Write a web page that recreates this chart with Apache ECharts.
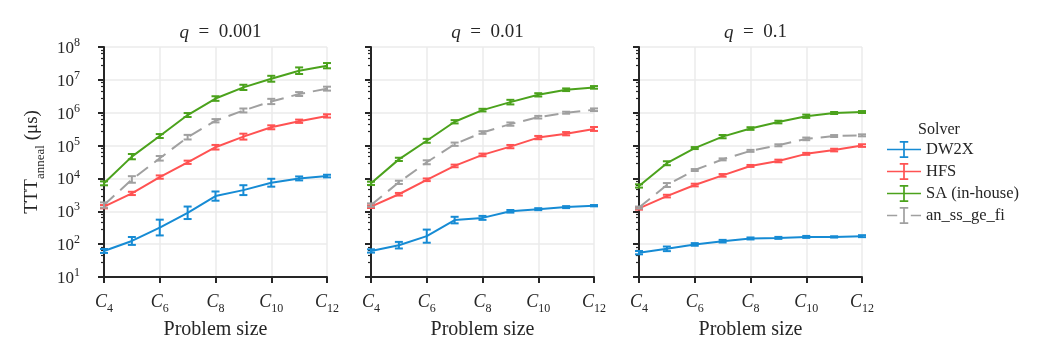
<!DOCTYPE html>
<html><head><meta charset="utf-8">
<script src="https://cdn.jsdelivr.net/npm/echarts@6/dist/echarts.min.js"></script>
<style>html,body{margin:0;padding:0;background:#fff}#c{width:1038px;height:346px}</style>
</head><body><div id="c"></div>
<script>
const sizes = [4, 5, 6, 7, 8, 9, 10, 11, 12];
const qValues = ['0.001', '0.01', '0.1'];
const solvers = ['DW2X', 'HFS', 'SA (in-house)', 'an_ss_ge_fi'];
const colors = ['#168bd4', '#ff5252', '#4ba21c', '#a0a0a0'];

// q = 0.001
const dw2x_q1 = [62, 125, 320, 900, 2900, 4400, 7400, 10000, 11800];
const hfs_q1  = [1380, 3500, 11000, 31000, 89000, 187000, 360000, 550000, 800000];
const sa_q1   = [7100, 46000, 195000, 850000, 2700000, 5900000, 10800000, 19000000, 27000000];
const ang_q1  = [1550, 9300, 41000, 180000, 570000, 1170000, 2200000, 3700000, 5400000];
// q = 0.01
const dw2x_q2 = [62, 93, 175, 540, 630, 1000, 1160, 1340, 1480];
const hfs_q2  = [1380, 3300, 9100, 24000, 52000, 93000, 175000, 230000, 320000];
const sa_q2   = [7100, 38000, 140000, 530000, 1200000, 2100000, 3500000, 5000000, 5900000];
const ang_q2  = [1550, 7600, 31000, 110000, 250000, 450000, 730000, 1000000, 1230000];
// q = 0.1
const dw2x_q3 = [55, 72, 98, 123, 149, 155, 166, 166, 175];
const hfs_q3  = [1230, 2900, 6300, 12400, 24000, 34000, 56000, 73000, 100000];
const sa_q3   = [5900, 29000, 84000, 187000, 330000, 520000, 780000, 980000, 1050000];
const ang_q3  = [1300, 6300, 18000, 38000, 69000, 102000, 160000, 195000, 205000];

// error bar half-widths in decades
const dw2x_e1 = [0.06, 0.12, 0.24, 0.19, 0.14, 0.15, 0.12, 0.06, 0.04];
const hfs_e1  = [0.05, 0.05, 0.05, 0.05, 0.07, 0.09, 0.06, 0.05, 0.05];
const sa_e1   = [0.06, 0.08, 0.06, 0.06, 0.07, 0.08, 0.09, 0.10, 0.08];
const ang_e1  = [0.08, 0.10, 0.07, 0.07, 0.05, 0.06, 0.08, 0.06, 0.06];
const dw2x_e2 = [0.05, 0.10, 0.20, 0.10, 0.06, 0.04, 0.03, 0.03, 0.02];
const hfs_e2  = [0.04, 0.04, 0.04, 0.04, 0.04, 0.05, 0.05, 0.05, 0.06];
const sa_e2   = [0.05, 0.05, 0.06, 0.05, 0.04, 0.07, 0.05, 0.04, 0.04];
const ang_e2  = [0.05, 0.05, 0.06, 0.05, 0.04, 0.05, 0.04, 0.03, 0.04];
const dw2x_e3 = [0.05, 0.07, 0.04, 0.04, 0.03, 0.03, 0.03, 0.02, 0.03];
const hfs_e3  = [0.04, 0.04, 0.04, 0.04, 0.03, 0.04, 0.03, 0.04, 0.04];
const sa_e3   = [0.05, 0.06, 0.03, 0.05, 0.04, 0.04, 0.05, 0.03, 0.03];
const ang_e3  = [0.03, 0.06, 0.03, 0.03, 0.03, 0.03, 0.04, 0.03, 0.03];

const panelVals = [[dw2x_q1, hfs_q1, sa_q1, ang_q1], [dw2x_q2, hfs_q2, sa_q2, ang_q2], [dw2x_q3, hfs_q3, sa_q3, ang_q3]];
const panelErrs = [[dw2x_e1, hfs_e1, sa_e1, ang_e1], [dw2x_e2, hfs_e2, sa_e2, ang_e2], [dw2x_e3, hfs_e3, sa_e3, ang_e3]];

const FONT = 'Liberation Serif';
const TXT = '#262626';
const lefts = [104, 371, 639];
const gridW = 223, gridTop = 47, gridH = 230;

const grids = [], xAxes = [], yAxes = [], series = [], titles = [];
for (let p = 0; p < 3; p++) {
  grids.push({left: lefts[p], top: gridTop, width: gridW, height: gridH});
  titles.push({
    text: '{i|q}\u2002=\u2002' + qValues[p], left: lefts[p] + gridW / 2, top: 18, textAlign: 'center',
    textStyle: {fontFamily: FONT, fontSize: 19, fontWeight: 'normal', color: TXT,
      rich: {i: {fontFamily: FONT, fontSize: 19, fontStyle: 'italic', color: TXT}}}
  });
  xAxes.push({
    type: 'value', gridIndex: p, min: 4, max: 12, interval: 2,
    name: 'Problem size', nameLocation: 'middle', nameGap: 40,
    nameTextStyle: {fontFamily: FONT, fontSize: 20, color: TXT},
    axisLine: {show: true, lineStyle: {color: TXT, width: 2}},
    axisTick: {show: true, length: 6, lineStyle: {color: TXT, width: 2}},
    splitLine: {show: true, lineStyle: {color: '#ebebeb', width: 1.5}},
    axisLabel: {margin: 12, fontFamily: FONT, color: TXT,
      formatter: v => '{c|C}{s|' + v + '}',
      rich: {c: {fontFamily: FONT, fontSize: 18, fontStyle: 'italic', color: TXT, lineHeight: 22, verticalAlign: 'bottom'},
             s: {fontFamily: FONT, fontSize: 12, color: TXT, verticalAlign: 'bottom', lineHeight: 22, padding: [0, 0, -4, 0]}}}
  });
  yAxes.push({
    type: 'log', logBase: 10, gridIndex: p, min: 10, max: 1e8,
    name: p === 0 ? 'TTT{s|anneal} (μs)' : '', nameLocation: 'middle', nameGap: 62, nameRotate: 90,
    nameTextStyle: {fontFamily: FONT, fontSize: 19, color: TXT,
      rich: {s: {fontFamily: FONT, fontSize: 13, color: TXT, verticalAlign: 'bottom', padding: [0, 0, -5, 0]}}},
    axisLine: {show: true, lineStyle: {color: TXT, width: 2}},
    axisTick: {show: true, length: 6, lineStyle: {color: TXT, width: 2}},
    minorTick: {show: true, splitNumber: 5, length: 3, lineStyle: {color: TXT, width: 1.2}},
    splitLine: {show: true, lineStyle: {color: '#ebebeb', width: 1.5}},
    axisLabel: {show: p === 0, margin: 24, fontFamily: FONT, color: TXT,
      formatter: v => '{b|10}{e|' + Math.round(Math.log10(v)) + '}',
      rich: {b: {fontFamily: FONT, fontSize: 17, color: TXT, lineHeight: 20, verticalAlign: 'bottom'},
             e: {fontFamily: FONT, fontSize: 12, color: TXT, verticalAlign: 'top', lineHeight: 20, padding: [0, 0, 8, 0]}}}
  });
  for (let s = 0; s < 4; s++) {
    const vals = panelVals[p][s], errs = panelErrs[p][s];
    const dashed = s === 3;
    series.push({
      type: 'line', name: solvers[s], xAxisIndex: p, yAxisIndex: p,
      data: sizes.map((n, i) => [n, vals[i]]),
      showSymbol: false, symbol: 'none', smooth: false,
      lineStyle: {color: colors[s], width: 2, type: dashed ? [14, 8] : 'solid'},
      itemStyle: {color: colors[s]}, z: 3
    });
    const c = colors[s];
    series.push({
      type: 'custom', name: solvers[s], xAxisIndex: p, yAxisIndex: p,
      data: sizes.map((n, i) => [n, vals[i] / Math.pow(10, errs[i]), vals[i] * Math.pow(10, errs[i])]),
      encode: {x: 0, y: [1, 2]}, z: 4,
      renderItem: (params, api) => {
        const x = api.value(0);
        const a = api.coord([x, api.value(1)]), b = api.coord([x, api.value(2)]);
        const w = 4;
        const st = {stroke: c, lineWidth: 2};
        return {type: 'group', children: [
          {type: 'line', shape: {x1: a[0], y1: a[1], x2: b[0], y2: b[1]}, style: st},
          {type: 'line', shape: {x1: a[0] - w, y1: a[1], x2: a[0] + w, y2: a[1]}, style: st},
          {type: 'line', shape: {x1: b[0] - w, y1: b[1], x2: b[0] + w, y2: b[1]}, style: st}
        ]};
      }
    });
  }
}

titles.push({text: 'Solver', left: 934, top: 117, textAlign: 'center',
  textStyle: {fontFamily: FONT, fontSize: 16, fontWeight: 'normal', color: TXT}});

const solidIcon = 'path://M0,9h40v2h-40Z M19,1h2v18h-2Z M15,0h10v2h-10Z M15,18h10v2h-10Z';
const dashIcon = 'path://M0,9h12v2h-12Z M28,9h12v2h-12Z M19,1h2v18h-2Z M15,0h10v2h-10Z M15,18h10v2h-10Z';

const option = {
  animation: false,
  backgroundColor: '#fff',
  title: titles,
  grid: grids, xAxis: xAxes, yAxis: yAxes, series: series,
  legend: {
    orient: 'vertical', left: 882, top: 136, itemWidth: 34, itemHeight: 17, itemGap: 5,
    selectedMode: false,
    textStyle: {fontFamily: FONT, fontSize: 16.5, color: TXT},
    data: solvers.map((n, i) => ({name: n, icon: i === 3 ? dashIcon : solidIcon}))
  }
};
echarts.init(document.getElementById('c')).setOption(option);
</script></body></html>
